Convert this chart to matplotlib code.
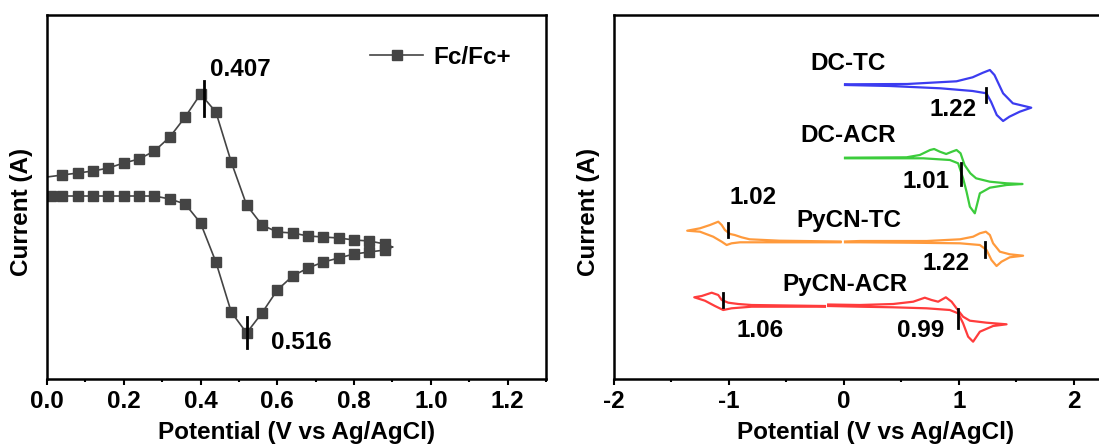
import matplotlib
matplotlib.use('Agg')
import matplotlib.pyplot as plt
from matplotlib.ticker import MultipleLocator

plt.rcParams['font.family'] = ['Liberation Sans', 'DejaVu Sans']
plt.rcParams['font.weight'] = 'bold'
plt.rcParams['font.size'] = 17.5
plt.rcParams['axes.unicode_minus'] = False

# ---- left panel: Fc/Fc+ reference (arbitrary current units) ----
fc_upper_E = [0.00, 0.04, 0.08, 0.12, 0.16, 0.20, 0.24, 0.28, 0.32, 0.36, 0.40, 0.44,
              0.48, 0.52, 0.56, 0.60, 0.64, 0.68, 0.72, 0.76, 0.80, 0.84, 0.88, 0.90]
fc_upper_I = [12.3, 12.5, 12.7, 12.9, 13.2, 13.7, 14.1, 14.9, 16.3, 18.3, 20.6, 18.8,
              13.8, 9.5, 7.5, 6.8, 6.7, 6.4, 6.3, 6.2, 6.0, 5.9, 5.6, 5.3]
fc_lower_E = [0.01, 0.04, 0.08, 0.12, 0.16, 0.20, 0.24, 0.28, 0.32, 0.36, 0.40, 0.44,
              0.48, 0.52, 0.56, 0.60, 0.64, 0.68, 0.72, 0.76, 0.80, 0.84, 0.88, 0.90]
fc_lower_I = [10.4, 10.4, 10.4, 10.4, 10.4, 10.4, 10.4, 10.4, 10.1, 9.6, 7.7, 3.8,
              -1.2, -3.3, -1.3, 1.0, 2.4, 3.2, 3.8, 4.2, 4.6, 4.8, 5.0, 5.3]
fc_peaks = [0.407, 0.516]
fc_peak_marks = [(0.408, 18.4, 21.9), (0.52, -4.8, -1.7)]
fc_peak_text = [(0.425, 23.1), (0.584, -4.2)]

# ---- right panel: CV of the four compounds ----
dctc_E = [0.01, 0.55, 0.98, 1.12, 1.21, 1.27, 1.31, 1.385, 1.47, 1.63,
          1.53, 1.44, 1.385, 1.33, 1.28, 1.24, 1.12, 0.84, 0.40, 0.01]
dctc_I = [29.37, 29.4, 29.67, 30.07, 30.53, 30.8, 30.3, 28.47, 27.47, 27.03,
          26.63, 26.13, 25.7, 26.3, 27.63, 28.47, 28.7, 28.97, 29.2, 29.3]

dcacr_E = [0.01, 0.545, 0.66, 0.75, 0.785, 0.835, 0.89, 0.94, 0.98, 1.015, 1.05, 1.10,
           1.15, 1.27, 1.415, 1.554, 1.415, 1.27, 1.183, 1.139, 1.096, 1.067, 1.037,
           0.994, 0.922, 0.69, 0.255, 0.01]
dcacr_I = [22.03, 22.07, 22.3, 22.8, 22.9, 22.63, 22.4, 22.63, 22.8, 22.47, 21.3, 20.47,
           19.97, 19.63, 19.47, 19.4, 19.3, 19.03, 18.47, 16.47, 17.13, 18.63, 19.97,
           21.47, 21.8, 21.97, 21.97, 21.97]

pytc_neg_E = [-0.03, -0.56, -0.82, -0.89, -0.95, -0.99, -1.035, -1.063, -1.093, -1.165,
              -1.252, -1.363, -1.252, -1.137, -1.063, -1.02, -0.977, -0.904, -0.70, -0.03]
pytc_neg_I = [13.65, 13.73, 13.87, 14.07, 14.3, 14.4, 14.8, 15.3, 15.63, 15.3,
              14.97, 14.73, 14.63, 14.13, 13.63, 13.3, 13.47, 13.57, 13.57, 13.57]
pytc_pos_E = [0.01, 0.14, 0.72, 1.01, 1.124, 1.183, 1.235, 1.27, 1.298, 1.357, 1.443,
              1.559, 1.443, 1.371, 1.328, 1.284, 1.241, 1.183, 1.009, 0.574, 0.139, 0.01]
pytc_pos_I = [13.65, 13.7, 13.7, 13.87, 14.13, 14.47, 14.63, 14.3, 13.47, 12.63, 12.37,
              12.23, 12.07, 11.63, 11.2, 11.8, 12.8, 13.3, 13.47, 13.53, 13.57, 13.57]

pyacr_neg_E = [-0.165, -0.803, -0.919, -1.006, -1.063, -1.093, -1.15, -1.237, -1.302,
               -1.209, -1.122, -1.05, -0.977, -0.803, -0.165]
pyacr_neg_I = [7.2, 7.3, 7.4, 7.53, 7.8, 8.3, 8.53, 8.2, 8.07,
               7.73, 7.2, 6.8, 6.97, 7.13, 7.13]
pyacr_pos_E = [-0.137, 0.139, 0.429, 0.603, 0.704, 0.763, 0.82, 0.887, 0.937, 0.98, 1.037,
               1.096, 1.241, 1.415, 1.298, 1.183, 1.124, 1.081, 1.037, 0.994, 0.922, 0.719,
               0.429, 0.139, -0.137]
pyacr_pos_I = [7.35, 7.3, 7.4, 7.63, 8.03, 7.8, 7.63, 8.07, 7.63, 6.97, 6.13,
               5.73, 5.53, 5.37, 5.2, 4.63, 3.63, 4.13, 5.47, 6.47, 6.8, 6.97,
               7.07, 7.13, 7.2]

names = ['DC-TC', 'DC-ACR', 'PyCN-TC', 'PyCN-ACR']
name_pos = [(0.04, 31.47), (0.035, 24.3), (0.042, 15.72), (0.013, 9.38)]
# (E, I_low, I_high) of the short black markers
onset_marks = [(1.232, 27.63, 28.97), (1.015, 19.3, 21.47), (-1.011, 14.13, 15.53),
               (1.226, 12.13, 13.63), (-1.048, 7.13, 8.47), (0.994, 4.97, 6.87)]
onset_text = ['1.22', '1.01', '1.02', '1.22', '1.06', '0.99']
onset_text_pos = [(1.154, 26.8, 'right'), (0.922, 19.63, 'right'), (-0.789, 18.05, 'center'),
                  (1.09, 11.42, 'right'), (-0.733, 4.72, 'center'), (0.872, 4.72, 'right')]

fig = plt.figure(figsize=(10.99, 4.48), dpi=100)
ax1 = fig.add_axes([47/1099, 1-379/448, 499/1099, 364/448])
ax2 = fig.add_axes([614/1099, 1-379/448, 523/1099, 364/448])

for ax in (ax1, ax2):
    for s in ax.spines.values():
        s.set_linewidth(1.8)
    ax.tick_params(axis='x', which='major', direction='out', length=4, width=1.5, pad=4)
    ax.tick_params(axis='x', which='minor', direction='out', length=2.5, width=1.5)
    ax.tick_params(axis='y', which='both', left=False, labelleft=False)
    ax.set_xlabel('Potential (V vs Ag/AgCl)', fontweight='bold', labelpad=6)
    ax.set_ylabel('Current (A)', fontweight='bold')

# left panel
line_col = '#444444'
ax1.plot(fc_upper_E, fc_upper_I, '-s', color=line_col, lw=1.2, ms=7.5,
         markevery=list(range(1, len(fc_upper_E) - 1)), label='Fc/Fc+')
ax1.plot(fc_lower_E, fc_lower_I, '-s', color=line_col, lw=1.2, ms=7.5,
         markevery=list(range(0, len(fc_lower_E) - 1)))
for (e, lo, hi), val, (tx, ty) in zip(fc_peak_marks, fc_peaks, fc_peak_text):
    ax1.plot([e, e], [lo, hi], color='black', lw=2)
    ax1.text(tx, ty, f'{val:.3f}', ha='left', va='center', fontweight='bold')
ax1.set_xlim(0, 1.3)
ax1.set_ylim(-7.9, 28.5)
ax1.xaxis.set_major_locator(MultipleLocator(0.2))
ax1.xaxis.set_minor_locator(MultipleLocator(0.1))
ax1.set_xticklabels([f'{t:.1f}' for t in ax1.get_xticks()])
ax1.yaxis.set_label_coords(-0.028, 0.459)
ax1.legend(loc='upper left', bbox_to_anchor=(0.647, 0.915), frameon=False,
           handlelength=2.2, handletextpad=0.4, borderpad=0, borderaxespad=0)

# right panel
ax2.plot(dctc_E, dctc_I, color='#3c3cf0', lw=1.6)
ax2.plot(dcacr_E, dcacr_I, color='#3ccc3c', lw=1.6)
ax2.plot(pytc_neg_E, pytc_neg_I, color='#ff9a3c', lw=1.6)
ax2.plot(pytc_pos_E, pytc_pos_I, color='#ff9a3c', lw=1.6)
ax2.plot(pyacr_neg_E, pyacr_neg_I, color='#ff3c3c', lw=1.6)
ax2.plot(pyacr_pos_E, pyacr_pos_I, color='#ff3c3c', lw=1.6)
for n, (x, y) in zip(names, name_pos):
    ax2.text(x, y, n, ha='center', va='center', fontweight='bold')
for (e, lo, hi) in onset_marks:
    ax2.plot([e, e], [lo, hi], color='black', lw=2)
for t, (x, y, ha) in zip(onset_text, onset_text_pos):
    ax2.text(x, y, t, ha=ha, va='center', fontweight='bold')
ax2.set_xlim(-2, 2.55)
ax2.set_ylim(-0.1, 36.3)
ax2.xaxis.set_major_locator(MultipleLocator(1))
ax2.xaxis.set_minor_locator(MultipleLocator(0.5))
ax2.yaxis.set_label_coords(-0.026, 0.459)

fig.savefig('out.png', dpi=100)
